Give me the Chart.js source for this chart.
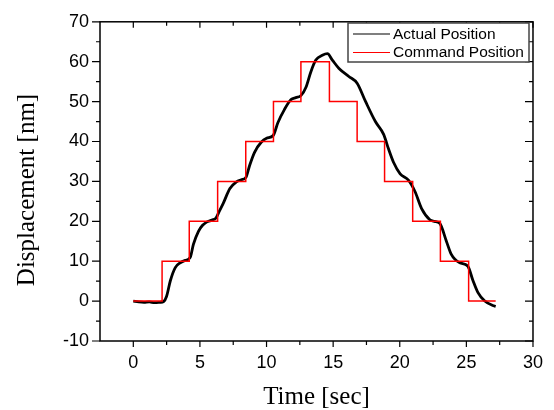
<!DOCTYPE html>
<html>
<head>
<meta charset="utf-8">
<script src="https://cdn.jsdelivr.net/npm/chart.js@4"></script>
<style>
body { margin: 0; background: #fff; }
#wrap { width: 554px; height: 410px; }
</style>
</head>
<body>
<div id="wrap"><canvas id="posChart" width="554" height="410"></canvas></div>
<script>
var actualTime = [0, 0.4, 0.8, 1.2, 1.6, 2.0, 2.28, 2.5, 2.78, 3.15, 3.52, 3.9, 4.14, 4.3, 4.51, 4.89, 5.2, 5.5, 5.9, 6.2, 6.45, 6.75, 7.25, 7.74, 8.1, 8.45, 8.73, 9.1, 9.6, 10.0, 10.5, 10.85, 11.34, 11.84, 12.2, 12.58, 12.96, 13.33, 13.7, 14.19, 14.57, 14.94, 15.44, 16.18, 16.8, 17.42, 18.17, 18.79, 19.16, 19.53, 20.03, 20.65, 21.15, 21.64, 22.26, 22.6, 23.0, 23.5, 23.87, 24.5, 25.1, 25.5, 25.86, 26.36, 26.98, 27.2];
var actualPos = [0, -0.2, -0.3, -0.2, -0.4, -0.3, -0.1, 1.2, 5.1, 8.4, 9.6, 10.2, 10.5, 11.2, 14.2, 17.5, 19.0, 19.8, 20.3, 20.8, 22.5, 24.5, 28.2, 29.9, 30.4, 31.0, 34.0, 37.3, 39.8, 40.8, 41.5, 44.7, 48.0, 50.5, 51.0, 51.5, 53.6, 57.5, 60.4, 61.6, 62.0, 60.4, 58.3, 56.3, 54.6, 50.1, 45.0, 41.8, 38.1, 34.8, 31.9, 30.3, 27.4, 23.2, 20.4, 20.0, 19.5, 15.0, 11.7, 9.6, 8.8, 5.1, 2.2, 0.1, -1.1, -1.3];

// command (red) steps: level starts at the given time
var cmdTime = [0, 2.16, 4.2, 6.33, 8.44, 10.52, 12.58, 14.72, 16.8, 18.86, 20.97, 23.05, 25.17, 27.2];
var cmdPos = [0, 10, 20, 30, 40, 50, 60, 50, 40, 30, 20, 10, 0, 0];

var xTicks = [0, 5, 10, 15, 20, 25, 30];
var xMinor = [2.5, 7.5, 12.5, 17.5, 22.5, 27.5];
var yTicks = [-10, 0, 10, 20, 30, 40, 50, 60, 70];
var yMinor = [-5, 5, 15, 25, 35, 45, 55, 65];

function toPoints(xs, ys) {
    return xs.map(function(x, i) { return { x: x, y: ys[i] }; });
}

var frameAndTicks = {
    id: 'frameAndTicks',
    afterDraw: function(chart) {
        var ctx = chart.ctx;
        var a = chart.chartArea;
        var sx = chart.scales.x, sy = chart.scales.y;
        ctx.save();
        ctx.strokeStyle = '#000';
        ctx.lineWidth = 1.5;
        ctx.strokeRect(a.left, a.top, a.right - a.left, a.bottom - a.top);

        ctx.lineWidth = 1.2;
        ctx.beginPath();
        function xt(v, len) {
            var px = sx.getPixelForValue(v);
            ctx.moveTo(px, a.bottom); ctx.lineTo(px, a.bottom + len);
            ctx.moveTo(px, a.top); ctx.lineTo(px, a.top + len);
        }
        function yt(v, len) {
            var py = sy.getPixelForValue(v);
            ctx.moveTo(a.left, py); ctx.lineTo(a.left - len, py);
            ctx.moveTo(a.right, py); ctx.lineTo(a.right - len, py);
        }
        xTicks.forEach(function(v) { xt(v, 6); });
        xMinor.forEach(function(v) { xt(v, 4); });
        yTicks.forEach(function(v) { yt(v, 8); });
        yMinor.forEach(function(v) { yt(v, 4); });
        ctx.stroke();

        // legend box inside the plot
        var lx = 348, ly = 23, lw = 181, lh = 39;
        ctx.fillStyle = '#fff';
        ctx.fillRect(lx, ly, lw, lh);
        ctx.strokeStyle = '#444';
        ctx.lineWidth = 1.5;
        ctx.strokeRect(lx, ly, lw, lh);
        var items = [chart.data.datasets[1], chart.data.datasets[0]];
        var rows = [34, 52.5];
        ctx.font = '15.5px "Liberation Sans", Arial, sans-serif';
        ctx.textBaseline = 'middle';
        ctx.textAlign = 'left';
        items.forEach(function(ds, i) {
            ctx.strokeStyle = ds.borderColor;
            ctx.lineWidth = 1.2;
            ctx.beginPath();
            ctx.moveTo(353, rows[i]); ctx.lineTo(390, rows[i]);
            ctx.stroke();
            ctx.fillStyle = '#000';
            ctx.fillText(ds.label, 393, rows[i] + 0.5);
        });

        // axis titles
        ctx.fillStyle = '#000';
        ctx.textAlign = 'center';
        ctx.textBaseline = 'alphabetic';
        ctx.font = '25px "Liberation Serif", "Times New Roman", serif';
        ctx.fillText('Time [sec]', (a.left + a.right) / 2, 404);
        ctx.translate(34, 190);
        ctx.rotate(-Math.PI / 2);
        ctx.fillText('Displacement [nm]', 0, 0);
        ctx.restore();
    }
};

var ctx = document.getElementById('posChart').getContext('2d');
var posChart = new Chart(ctx, {
    type: 'line',
    data: {
        datasets: [{
            label: 'Command Position',
            data: toPoints(cmdTime, cmdPos),
            borderColor: 'rgb(255,0,0)',
            borderWidth: 1.5,
            stepped: 'before',
            pointRadius: 0,
            fill: false
        }, {
            label: 'Actual Position',
            data: toPoints(actualTime, actualPos),
            borderColor: '#000',
            borderWidth: 2.8,
            cubicInterpolationMode: 'monotone',
            pointRadius: 0,
            fill: false
        }]
    },
    options: {
        responsive: false,
        animation: false,
        devicePixelRatio: 1,
        layout: { padding: { top: 18, right: 18, left: 0, bottom: 0 } },
        plugins: { legend: { display: false }, tooltip: { enabled: false } },
        scales: {
            x: {
                type: 'linear',
                min: -2.5,
                max: 30,
                afterBuildTicks: function(s) { s.ticks = xTicks.map(function(v) { return { value: v }; }); },
                afterFit: function(s) { s.height = 69; },
                grid: { display: false, drawTicks: false },
                border: { display: false },
                ticks: {
                    color: '#000',
                    padding: 11,
                    maxRotation: 0,
                    font: { family: '"Liberation Sans", Arial, sans-serif', size: 18 }
                }
            },
            y: {
                type: 'linear',
                min: -10,
                max: 70,
                afterBuildTicks: function(s) { s.ticks = yTicks.map(function(v) { return { value: v }; }); },
                afterFit: function(s) { s.width = 100; },
                grid: { display: false, drawTicks: false },
                border: { display: false },
                ticks: {
                    color: '#000',
                    padding: 11,
                    font: { family: '"Liberation Sans", Arial, sans-serif', size: 18 }
                }
            }
        }
    },
    plugins: [frameAndTicks]
});
</script>
</body>
</html>
